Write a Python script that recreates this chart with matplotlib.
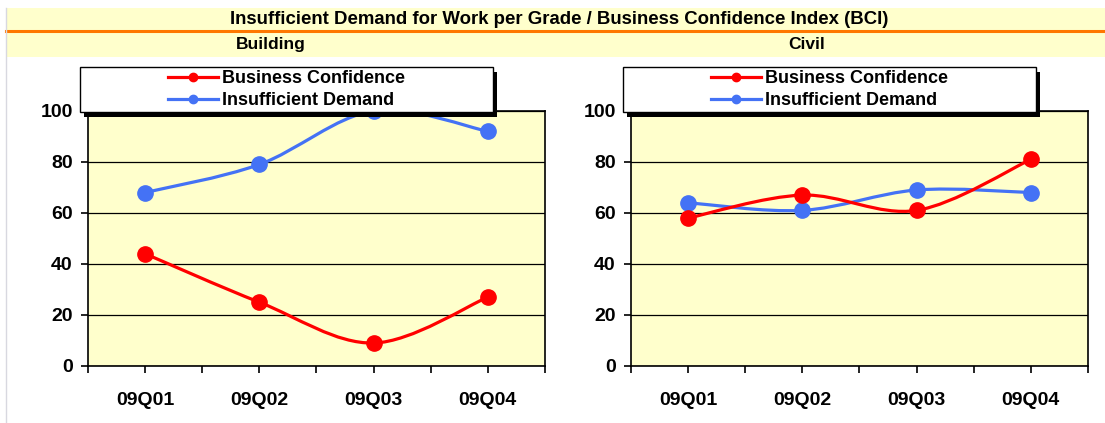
import matplotlib.pyplot as plt
from matplotlib.path import Path
from matplotlib.patches import PathPatch, Rectangle
from matplotlib.lines import Line2D

plt.rcParams['font.family'] = ['Liberation Sans', 'DejaVu Sans']
plt.rcParams['font.weight'] = 'bold'

quarters = ["09Q01", "09Q02", "09Q03", "09Q04"]
building_bci = [44, 25, 9, 27]
building_demand = [68, 79, 100, 92]
civil_bci = [58, 67, 61, 81]
civil_demand = [64, 61, 69, 68]

RED = "#FF0000"
BLUE = "#4472F5"
PANEL = "#FFFFCC"


def smooth_path(xs, ys):
    # Excel style smoothed line: cubic bezier through the points
    pts = list(zip(xs, ys))
    verts = [pts[0]]
    codes = [Path.MOVETO]
    n = len(pts)
    for i in range(n - 1):
        p0 = pts[i - 1] if i > 0 else pts[i]
        p1 = pts[i]
        p2 = pts[i + 1]
        p3 = pts[i + 2] if i + 2 < n else pts[i + 1]
        c1 = (p1[0] + (p2[0] - p0[0]) / 6, p1[1] + (p2[1] - p0[1]) / 6)
        c2 = (p2[0] - (p3[0] - p1[0]) / 6, p2[1] - (p3[1] - p1[1]) / 6)
        verts += [c1, c2, p2]
        codes += [Path.CURVE4] * 3
    return Path(verts, codes)


fig = plt.figure(figsize=(11.05, 4.23), dpi=100)
fig.patch.set_facecolor("white")

# header bands
fig.add_artist(Rectangle((0.005, 0.929), 0.995, 0.052, transform=fig.transFigure,
                         facecolor=PANEL, edgecolor="none"))
fig.add_artist(Rectangle((0.005, 0.865), 0.995, 0.057, transform=fig.transFigure,
                         facecolor=PANEL, edgecolor="none"))
fig.add_artist(Line2D([0.005, 1.0], [0.926, 0.926], transform=fig.transFigure,
                      color="#FF7700", lw=2.2))
fig.add_artist(Line2D([0.005, 0.005], [0.0, 0.98], transform=fig.transFigure,
                      color="#D8D8E0", lw=1))
fig.text(0.506, 0.955, "Insufficient Demand for Work per Grade / Business Confidence Index (BCI)",
         ha="center", va="center", fontsize=13.4, fontweight="bold")
fig.text(0.245, 0.895, "Building", ha="center", va="center", fontsize=12.5, fontweight="bold")
fig.text(0.73, 0.895, "Civil", ha="center", va="center", fontsize=12.5, fontweight="bold")

panels = [
    (0.0796, building_bci, building_demand),
    (0.571, civil_bci, civil_demand),
]

for left, bci, demand in panels:
    ax = fig.add_axes([left, 0.1348, 0.4136, 0.603])
    ax.set_facecolor(PANEL)
    x = range(len(quarters))
    for vals, col in [(demand, BLUE), (bci, RED)]:
        ax.add_patch(PathPatch(smooth_path(list(x), vals), facecolor="none",
                               edgecolor=col, lw=2.3, zorder=3, clip_on=False))
        ax.plot(list(x), vals, linestyle="none", marker="o", markersize=11,
                color=col, zorder=4, clip_on=False)
    ax.set_xlim(-0.5, 3.5)
    ax.set_ylim(0, 100)
    ax.set_yticks([0, 20, 40, 60, 80, 100])
    ax.set_xticks(list(x))
    ax.set_xticklabels(quarters)
    ax.set_xticks([-0.5, 0.5, 1.5, 2.5, 3.5], minor=True)
    ax.tick_params(axis="x", which="both", length=5, width=1.2, direction="out", pad=14,
                   labelsize=14)
    ax.tick_params(axis="y", length=5, width=1.2, direction="out", labelsize=14, pad=6)
    for lbl in ax.get_xticklabels() + ax.get_yticklabels():
        lbl.set_fontweight("bold")
    ax.grid(axis="y", color="black", lw=0.9)
    ax.set_axisbelow(True)
    for sp in ax.spines.values():
        sp.set_color("black")
        sp.set_linewidth(1.2)

    # legend box with shadow
    bx, by, bw, bh = -0.0175, 0.996, 0.903, 0.176
    ax.add_patch(Rectangle((bx + 0.009, by - 0.018), bw, bh, transform=ax.transAxes,
                           facecolor="black", edgecolor="none", clip_on=False, zorder=5))
    ax.add_patch(Rectangle((bx, by), bw, bh, transform=ax.transAxes,
                           facecolor="white", edgecolor="black", lw=1, clip_on=False, zorder=6))
    handles = [Line2D([], [], color=RED, lw=2.3, marker="o", markersize=6),
               Line2D([], [], color=BLUE, lw=2.3, marker="o", markersize=6)]
    leg = ax.legend(handles, ["Business Confidence", "Insufficient Demand"],
                    loc="center", bbox_to_anchor=(bx, by, bw, bh), frameon=False,
                    fontsize=13, handlelength=2.8, handletextpad=0.2,
                    labelspacing=0.28, borderpad=0.1)
    leg.set_zorder(7)
    for t in leg.get_texts():
        t.set_fontweight("bold")

fig.savefig("out.png", dpi=100)
